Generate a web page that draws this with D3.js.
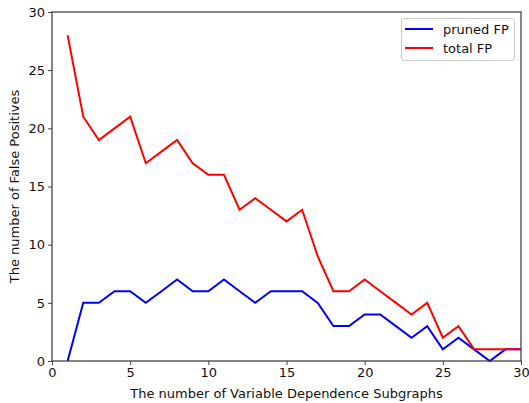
<!DOCTYPE html>
<html>
<head>
<meta charset="utf-8">
<script src="https://cdn.jsdelivr.net/npm/d3@7"></script>
<style>
body{margin:0;background:#fff;}
svg{display:block;font-family:"DejaVu Sans",sans-serif;}
</style>
</head>
<body>
<svg id="chart" width="529" height="403"></svg>
<script>
const xValues = [1,2,3,4,5,6,7,8,9,10,11,12,13,14,15,16,17,18,19,20,21,22,23,24,25,26,27,28,29,30];
const prunedFP = [0,5,5,6,6,5,6,7,6,6,7,6,5,6,6,6,5,3,3,4,4,3,2,3,1,2,1,0,1,1];
const totalFP = [28,21,19,20,21,17,18,19,17,16,16,13,14,13,12,13,9,6,6,7,6,5,4,5,2,3,1,1,1,1];
const xTicks = [0,5,10,15,20,25,30];
const yTicks = [0,5,10,15,20,25,30];
const seriesNames = ["pruned FP","total FP"];
const seriesColors = ["#0000ff","#ff0000"];

const svg = d3.select("#chart");
const L = 52, R = 521, T = 12, B = 361;
const x = d3.scaleLinear().domain([0,30]).range([L,R]);
const y = d3.scaleLinear().domain([0,30]).range([B,T]);

const line = d3.line().x((d,i)=>x(xValues[i])).y(d=>y(d));

[prunedFP,totalFP].forEach((s,k)=>{
  svg.append("path").datum(s).attr("d",line)
    .attr("fill","none").attr("stroke",seriesColors[k]).attr("stroke-width",2);
});

// axes
const xAxis = svg.append("g").attr("transform",`translate(0,${B})`)
  .call(d3.axisBottom(x).tickValues(xTicks).tickSize(4).tickPadding(3).tickSizeOuter(0));
const yAxis = svg.append("g").attr("transform",`translate(${L},0)`)
  .call(d3.axisLeft(y).tickValues(yTicks).tickSize(4).tickPadding(3).tickSizeOuter(0));
[xAxis,yAxis].forEach(g=>{
  g.select(".domain").remove();
  g.selectAll("line").attr("stroke","#444").attr("stroke-width",1);
  g.selectAll("text").attr("font-size",13).attr("fill","#111").attr("font-family","DejaVu Sans");
});

// frame
svg.append("rect").attr("x",L).attr("y",T).attr("width",R-L).attr("height",B-T)
  .attr("fill","none").attr("stroke","#333").attr("stroke-width",1.2);

// labels
svg.append("text").attr("x",(L+R)/2).attr("y",398).attr("text-anchor","middle")
  .attr("font-size",13).attr("fill","#111").text("The number of Variable Dependence Subgraphs");
svg.append("text").attr("transform",`translate(19,${(T+B)/2}) rotate(-90)`).attr("text-anchor","middle")
  .attr("font-size",13).attr("fill","#111").text("The number of False Positives");

// legend
const lg = svg.append("g");
lg.append("rect").attr("x",401.5).attr("y",18.5).attr("width",113).attr("height",42).attr("rx",2.5)
  .attr("fill","#fff").attr("fill-opacity",0.8).attr("stroke","#ccc").attr("stroke-width",1);
seriesNames.forEach((n,i)=>{
  const yy = 29 + i*19;
  lg.append("line").attr("x1",405).attr("x2",433).attr("y1",yy).attr("y2",yy)
    .attr("stroke",seriesColors[i]).attr("stroke-width",2);
  lg.append("text").attr("x",443).attr("y",yy+4.5).attr("font-size",13).attr("fill","#111").text(n);
});
</script>
</body>
</html>
